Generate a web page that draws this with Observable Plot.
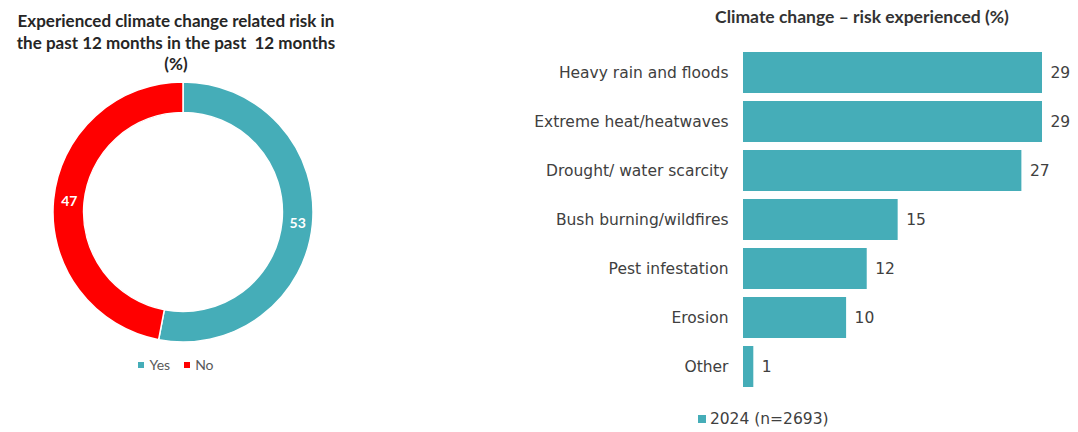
<!DOCTYPE html>
<html>
<head>
<meta charset="utf-8">
<script src="https://cdn.jsdelivr.net/npm/d3@7"></script>
<script src="https://cdn.jsdelivr.net/npm/@observablehq/plot@0.6"></script>
<style>
  body { margin: 0; background: #fff; }
  #page { position: relative; width: 1078px; height: 432px; overflow: hidden; background: #fff; }
  .abs { position: absolute; }
  #ltitle { left: 0; top: 10px; width: 352px; text-align: center; font: 700 17px/21.5px Lato, sans-serif; color: #262626; }
  #rtitle { left: 612px; top: 6px; width: 500px; text-align: center; font: 700 17.5px/22px Lato, sans-serif; color: #333; }
  #donut { left: 43px; top: 72px; }
  #bars { left: 480px; top: 36px; }
  #dlegend { left: 83px; top: 356px; width: 200px; }
  #blegend { left: 606px; top: 410px; width: 330px; }
  #page .dl-swatches-wrap, #page .bl-swatches-wrap { min-height: 0; justify-content: center; margin: 0; }
  #page .dl-swatches { font: 14px Lato, sans-serif; color: #595959; }
  #page .dl-swatch { margin-right: 1em; }
  #page .dl-swatch > svg { margin-right: 5px; }
  #page .bl-swatches { font: 15.5px "DejaVu Sans", sans-serif; color: #404040; }
  #page .bl-swatch > svg { margin-right: 4px; }
</style>
</head>
<body>
<div id="page">
  <div id="ltitle" class="abs">Experienced climate change related risk in<br>the past 12 months in the past&nbsp; 12 months<br>(%)</div>
  <div id="rtitle" class="abs">Climate change – risk experienced (%)</div>
  <div id="donut" class="abs"></div>
  <div id="dlegend" class="abs"></div>
  <div id="bars" class="abs"></div>
  <div id="blegend" class="abs"></div>
</div>
<script>
// Share of respondents who experienced a climate-related risk
const answers = ["Yes", "No"];
const answerShares = [53, 47];
const answerColors = ["#45adb8", "#ff0000"];

// Types of climate risk experienced, percent of respondents
const risks = [
  "Heavy rain and floods",
  "Extreme heat/heatwaves",
  "Drought/ water scarcity",
  "Bush burning/wildfires",
  "Pest infestation",
  "Erosion",
  "Other"
];
const riskShares = [29, 29, 27, 15, 12, 10, 1];
const seriesName = "2024 (n=2693)";
const teal = "#45adb8";

// ---- Donut ----
const donutRows = answers.map((a, i) => ({answer: a, value: answerShares[i]}));
const pie = d3.pie().sort(null).value(d => d.value)(donutRows);
const innerRatio = 0.765;
const midR = (1 + innerRatio) / 2;
const labelRows = pie.map(p => {
  const a = (p.startAngle + p.endAngle) / 2;
  return {answer: p.data.answer, value: p.data.value, x: midR * Math.sin(a), y: midR * Math.cos(a)};
});

function ringMark(index, scales) {
  const R = scales.x(1) - scales.x(0);
  const cx = scales.x(0), cy = scales.y(0);
  const arc = d3.arc().innerRadius(R * innerRatio).outerRadius(R);
  const g = d3.create("svg:g").attr("transform", `translate(${cx},${cy})`);
  g.selectAll("path")
    .data(pie)
    .join("path")
    .attr("d", arc)
    .attr("fill", d => scales.color(d.data.answer))
    .attr("stroke", "#fff")
    .attr("stroke-width", 1.5);
  return g.node();
}

const donut = Plot.plot({
  width: 280, height: 280,
  margin: 10,
  x: {domain: [-1, 1], axis: null},
  y: {domain: [-1, 1], axis: null},
  color: {domain: answers, range: answerColors},
  marks: [
    ringMark,
    Plot.text(labelRows, {
      x: "x", y: "y", text: d => String(d.value),
      fill: "#fff", fontSize: 14, fontWeight: 700, fontFamily: "Lato, sans-serif"
    })
  ]
});
document.getElementById("donut").append(donut);

document.getElementById("dlegend").append(Plot.legend({
  color: {domain: answers, range: answerColors},
  swatchSize: 6,
  className: "dl"
}));

// ---- Bars ----
const barRows = risks.map((r, i) => ({risk: r, value: riskShares[i]}));

const bars = Plot.plot({
  width: 598, height: 368,
  marginLeft: 263, marginRight: 36, marginTop: 8, marginBottom: 9,
  style: {fontFamily: "DejaVu Sans, sans-serif", fontSize: "15.5px", color: "#404040", background: "transparent"},
  x: {domain: [0, 29], axis: null},
  y: {domain: risks, padding: 0.16, label: null},
  marks: [
    Plot.barX(barRows, {x: "value", y: "risk", fill: teal}),
    Plot.text(barRows, {
      x: "value", y: "risk", text: d => String(d.value),
      dx: 8, textAnchor: "start", fill: "#404040"
    }),
    Plot.axisY({tickSize: 0, tickPadding: 15, label: null, fill: "#404040"})
  ]
});
document.getElementById("bars").append(bars);

document.getElementById("blegend").append(Plot.legend({
  color: {domain: [seriesName], range: [teal]},
  swatchSize: 8,
  className: "bl"
}));
</script>
</body>
</html>
